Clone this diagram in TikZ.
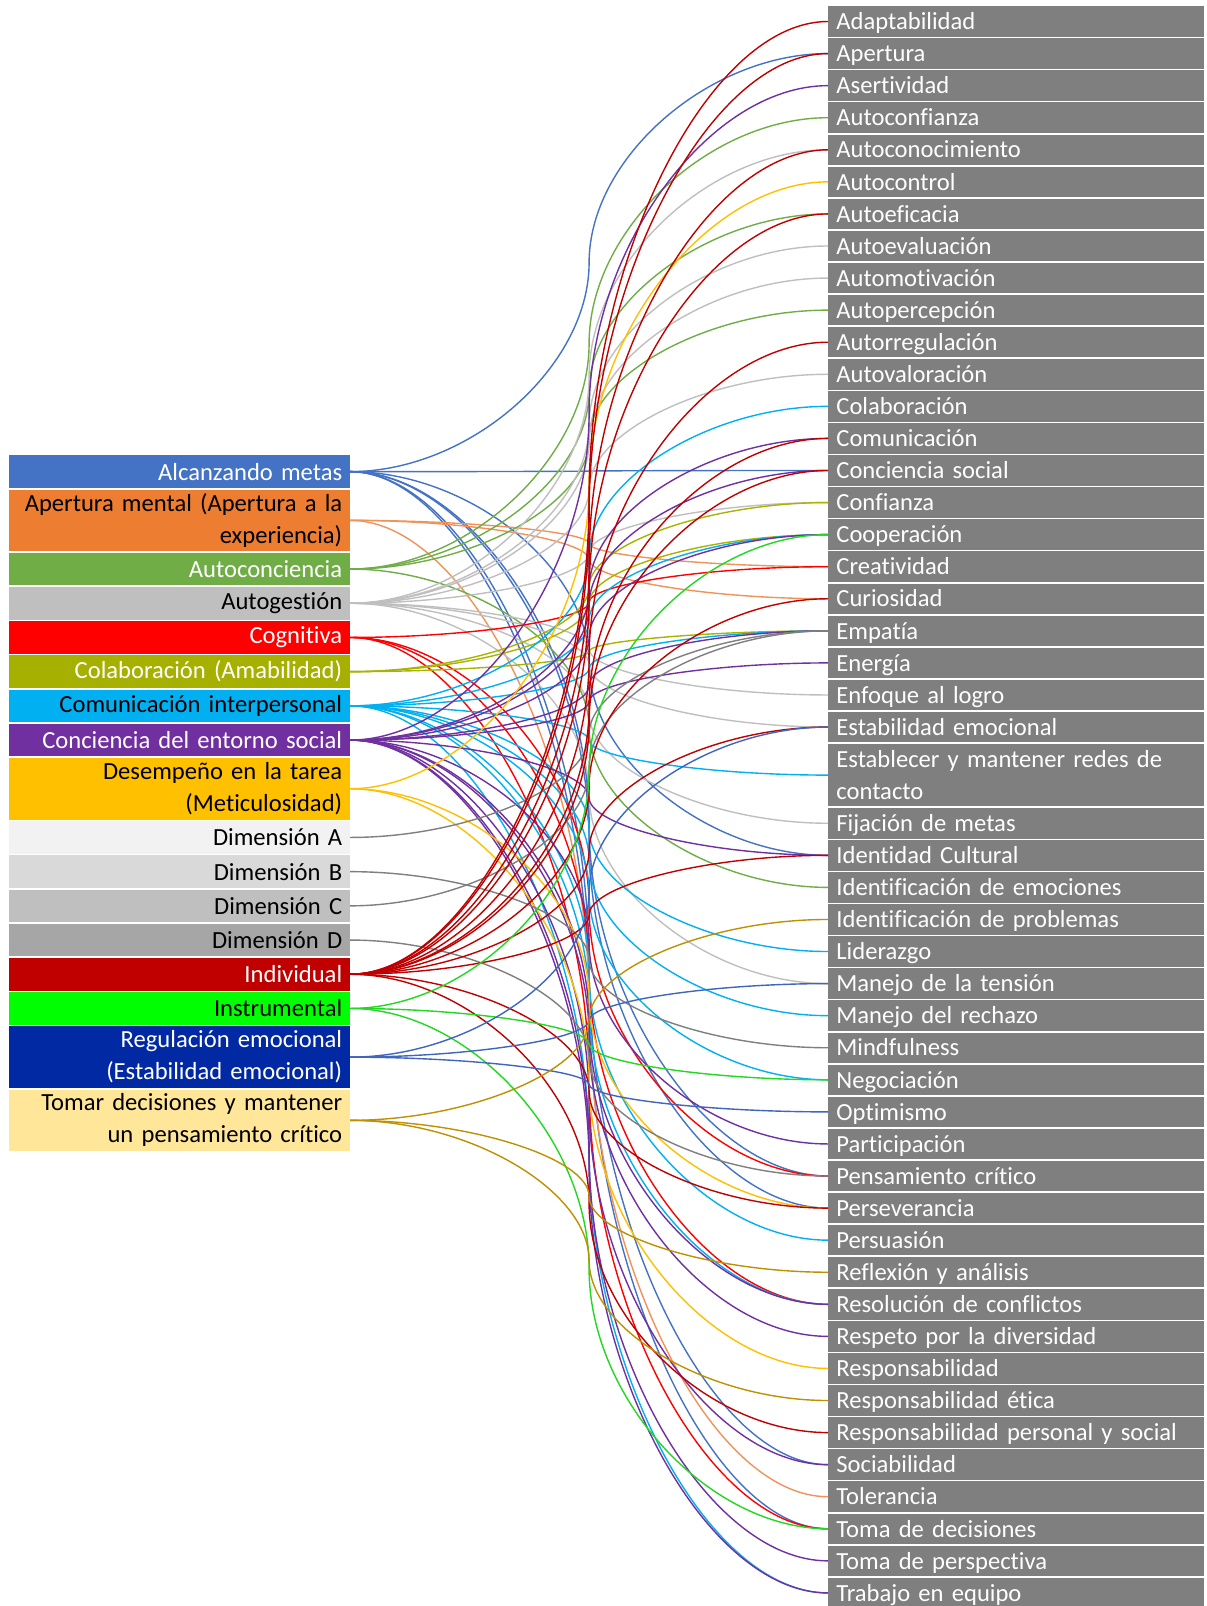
\documentclass[tikz,border=0pt]{standalone}
\usepackage{fontspec}
\setmainfont{Carlito}[Ligatures=NoCommon]
\usetikzlibrary{calc}

% box fills
\definecolor{alcfill}{HTML}{4472C4}
\definecolor{apefill}{HTML}{ED7D31}
\definecolor{autocfill}{HTML}{70AD47}
\definecolor{autogfill}{HTML}{BFBFBF}
\definecolor{cogfill}{HTML}{FF0000}
\definecolor{colafill}{HTML}{A5B000}
\definecolor{comfill}{HTML}{00B0F0}
\definecolor{concfill}{HTML}{7030A0}
\definecolor{desfill}{HTML}{FFC000}
\definecolor{dimafill}{HTML}{F2F2F2}
\definecolor{dimbfill}{HTML}{D9D9D9}
\definecolor{dimcfill}{HTML}{BFBFBF}
\definecolor{dimdfill}{HTML}{A6A6A6}
\definecolor{indfill}{HTML}{C00000}
\definecolor{insfill}{HTML}{00FF00}
\definecolor{regfill}{HTML}{0029A3}
\definecolor{tomfill}{HTML}{FFE699}
\definecolor{rgray}{HTML}{7F7F7F}
% line colours
\definecolor{lnape}{HTML}{F0935A}
\definecolor{lncola}{HTML}{A8B400}
\definecolor{lnins}{HTML}{22D822}
\definecolor{lnreg}{HTML}{3F65BE}
\definecolor{lntom}{HTML}{BF9000}
\definecolor{lndim}{HTML}{7F7F7F}

\tikzset{
  lbox/.style={rectangle, anchor=north west, minimum width=170.6pt, text width=163pt,
    align=right, inner xsep=3.8pt, inner ysep=0pt, font=\fontsize{12.3}{16}\selectfont},
  lone/.style={lbox, minimum height=16.25pt},
  ltwo/.style={lbox, minimum height=30.75pt},
  rbox/.style={rectangle, anchor=west, fill=rgray, text=white, minimum width=188pt,
    text width=180pt, align=left, inner xsep=4pt, inner ysep=0pt, minimum height=15.25pt,
    font=\fontsize{12.3}{16}\selectfont},
  rone/.style={rbox, text height=10pt, text depth=1.8pt},
  lnk/.style={line width=0.7pt}
}

% office-like curved connector from left box to right box
\newcommand{\cnx}[3]{%
  \draw[lnk,#1] let \p1=(#2.east), \p2=(#3.west) in
    (\p1) .. controls ({0.75*\x1+0.25*\x2},\y1) and ({0.5*\x1+0.5*\x2},{0.75*\y1+0.25*\y2})
    .. ({0.5*\x1+0.5*\x2},{0.5*\y1+0.5*\y2})
    .. controls ({0.5*\x1+0.5*\x2},{0.25*\y1+0.75*\y2}) and ({0.25*\x1+0.75*\x2},\y2) .. (\p2);}

\begin{document}
\begin{tikzpicture}[x=0.5pt,y=-0.5pt]
\fill[white] (0,0) rectangle (1206,1606);
\useasboundingbox (0,0) rectangle (1206,1606);

% left column
\node[lone, fill=alcfill, text=white] (alc) at (8.2,455) {Alcanzando metas};
\node[ltwo, fill=apefill] (ape) at (8.2,489.2) {Apertura mental (Apertura a la\\experiencia)};
\node[lone, fill=autocfill, text=white] (autoc) at (8.2,552.4) {Autoconciencia};
\node[lone, fill=autogfill] (autog) at (8.2,586.6) {Autogestión};
\node[lone, fill=cogfill, text=white] (cog) at (8.2,620.8) {Cognitiva};
\node[lone, fill=colafill, text=white] (cola) at (8.2,655) {Colaboración (Amabilidad)};
\node[lone, fill=comfill] (com) at (8.2,689.2) {Comunicación interpersonal};
\node[lone, fill=concfill, text=white] (conc) at (8.2,723.4) {Conciencia del entorno social};
\node[ltwo, fill=desfill] (des) at (8.2,757.6) {Desempeño en la tarea\\(Meticulosidad)};
\node[lone, fill=dimafill] (dima) at (8.2,820.8) {Dimensión A};
\node[lone, fill=dimbfill] (dimb) at (8.2,855) {Dimensión B};
\node[lone, fill=dimcfill] (dimc) at (8.2,889.2) {Dimensión C};
\node[lone, fill=dimdfill] (dimd) at (8.2,923.4) {Dimensión D};
\node[lone, fill=indfill, text=white] (ind) at (8.2,957.6) {Individual};
\node[lone, fill=insfill] (ins) at (8.2,991.8) {Instrumental};
\node[ltwo, fill=regfill, text=white] (reg) at (8.2,1026) {Regulación emocional\\(Estabilidad emocional)};
\node[ltwo, fill=tomfill] (tom) at (8.2,1089.2) {Tomar decisiones y mantener\\un pensamiento crítico};

% right column
\foreach \lbl [count=\i] in {Adaptabilidad,Apertura,Asertividad,Autoconfianza,Autoconocimiento,
    Autocontrol,Autoeficacia,Autoevaluación,Automotivación,Autopercepción,Autorregulación,
    Autovaloración,Colaboración,Comunicación,Conciencia social,Confianza,Cooperación,Creatividad,
    Curiosidad,Empatía,Energía,Enfoque al logro,Estabilidad emocional}
  \node[rone] (r\i) at (828,{21.5+32.07*(\i-1)}) {\lbl};
\node[rbox, minimum height=31.3pt] (r24) at (828,775.1) {Establecer y mantener redes de\\contacto};
\foreach \lbl [count=\i from 25] in {Fijación de metas,Identidad Cultural,
    Identificación de emociones,Identificación de problemas,Liderazgo,Manejo de la tensión,
    Manejo del rechazo,Mindfulness,Negociación,Optimismo,Participación,Pensamiento crítico,
    Perseverancia,Persuasión,Reflexión y análisis,Resolución de conflictos,
    Respeto por la diversidad,Responsabilidad,Responsabilidad ética,
    Responsabilidad personal y social,Sociabilidad,Tolerancia,Toma de decisiones,
    Toma de perspectiva,Trabajo en equipo}
  \node[rone] (r\i) at (828,{21.5+32.07*\i}) {\lbl};

% connectors
\foreach \r in {r2,r15,r26,r36,r37,r45,r47} {\cnx{alcfill}{alc}{\r}}
\foreach \r in {r18,r19,r46} {\cnx{lnape}{ape}{\r}}
\foreach \r in {r4,r7,r10,r27} {\cnx{autocfill}{autoc}{\r}}
\foreach \r in {r5,r8,r9,r12,r16,r22,r23,r25,r30} {\cnx{autogfill}{autog}{\r}}
\foreach \r in {r18,r36,r40,r47} {\cnx{cogfill}{cog}{\r}}
\foreach \r in {r16,r17,r20} {\cnx{lncola}{cola}{\r}}
\foreach \r in {r13,r17,r20,r24,r29,r31,r33,r38,r40,r49} {\cnx{comfill}{com}{\r}}
\foreach \r in {r3,r14,r15,r17,r20,r21,r26,r35,r40,r41,r45,r48,r49} {\cnx{concfill}{conc}{\r}}
\foreach \r in {r6,r37,r42} {\cnx{desfill}{des}{\r}}
\cnx{lndim}{dima}{r20}
\cnx{lndim}{dimb}{r32}
\cnx{lndim}{dimc}{r20}
\cnx{lndim}{dimd}{r36}
\foreach \r in {r1,r2,r5,r7,r11,r14,r15,r19,r23,r26,r37,r44} {\cnx{indfill}{ind}{\r}}
\foreach \r in {r17,r33,r47} {\cnx{lnins}{ins}{\r}}
\foreach \r in {r23,r30,r34} {\cnx{lnreg}{reg}{\r}}
\foreach \r in {r28,r39,r43} {\cnx{lntom}{tom}{\r}}
\end{tikzpicture}
\end{document}
